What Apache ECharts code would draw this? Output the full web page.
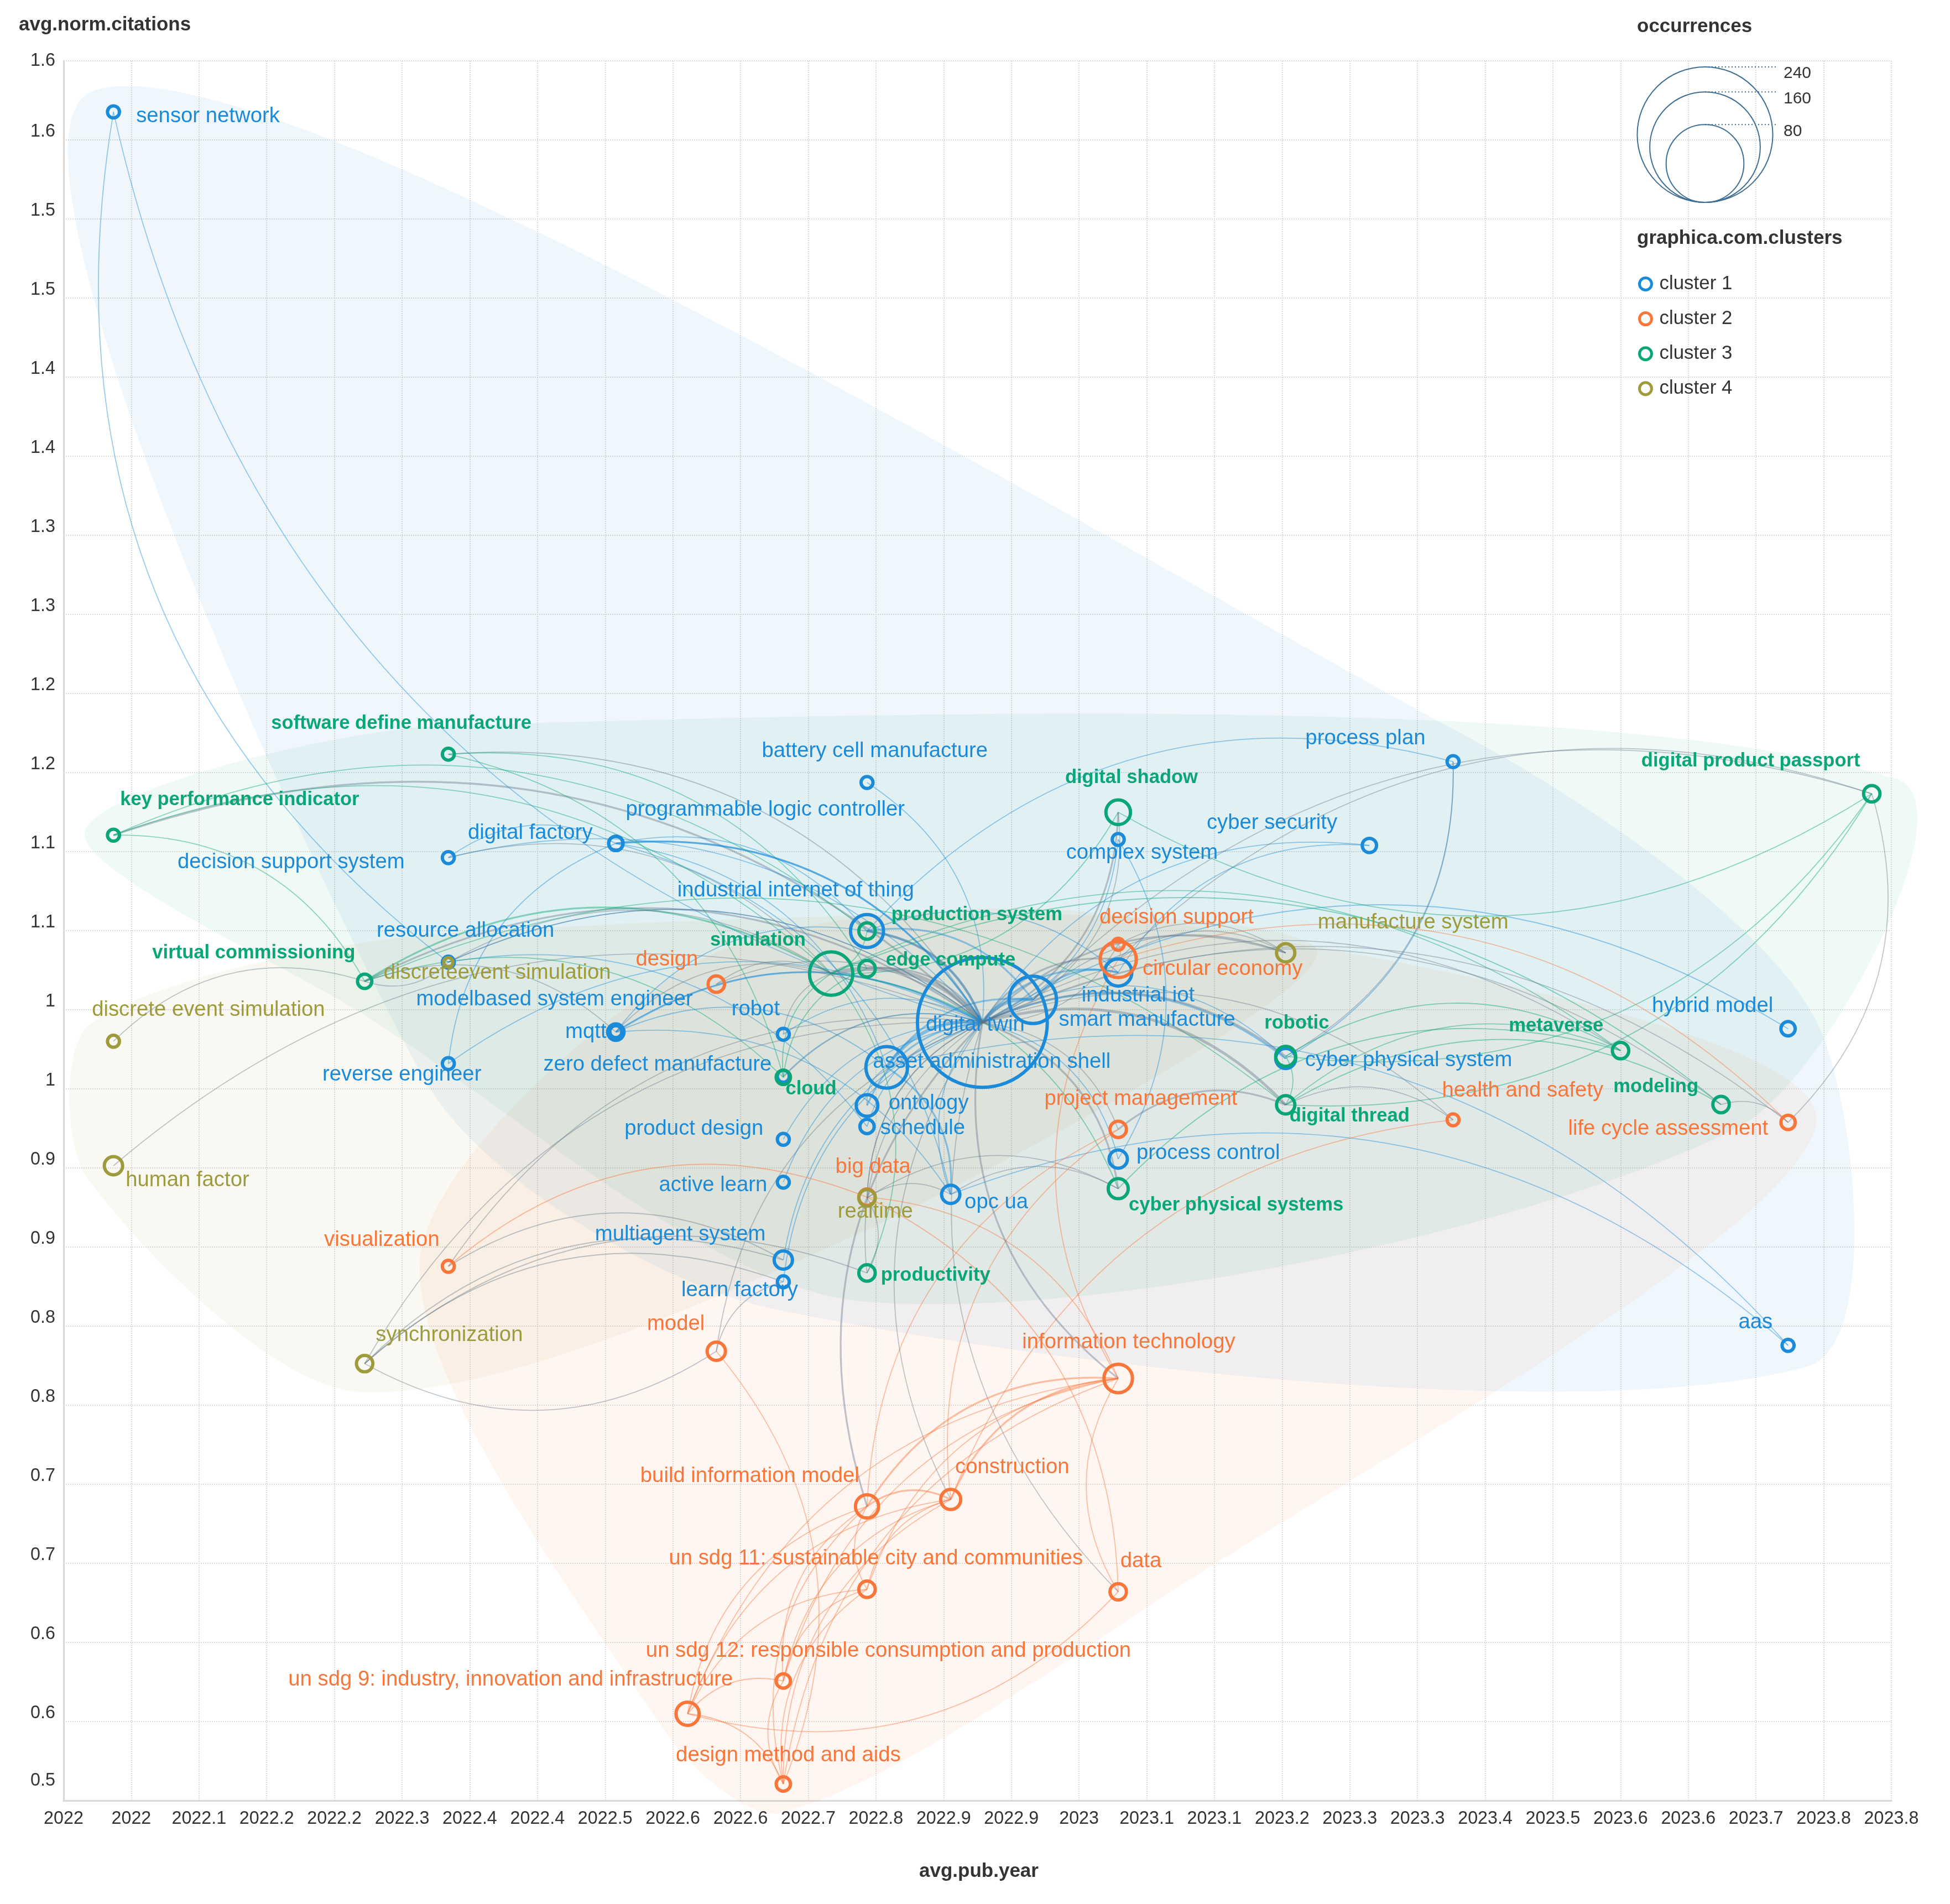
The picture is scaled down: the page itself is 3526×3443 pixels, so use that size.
<!DOCTYPE html>
<html><head><meta charset="utf-8">
<script src="https://cdn.jsdelivr.net/npm/echarts@6/dist/echarts.min.js"></script>
<style>html,body{margin:0;padding:0;background:#fff;}#c{width:3526px;height:3443px;}</style>
</head><body><div id="c"></div>
<script>
// ---------------- DATA ----------------
const SDG9 = 'un sdg 9: industry, innovation and infrastructure';
const SDG11 = 'un sdg 11: sustainable city and communities';
const SDG12 = 'un sdg 12: responsible consumption and production';

const clusterNames = ['cluster 1', 'cluster 2', 'cluster 3', 'cluster 4'];

// cluster 1
const c1Names = ['sensor network','battery cell manufacture','process plan','programmable logic controller','digital factory','decision support system','complex system','cyber security','industrial internet of thing','resource allocation','mqtt','modelbased system engineer','robot','reverse engineer','smart manufacture','digital twin','industrial iot','asset administration shell','ontology','schedule','product design','active learn','opc ua','multiagent system','learn factory','process control','hybrid model','aas','cyber physical system','zero defect manufacture'];
const c1Year = [2022.0,2022.75,2023.3333,2022.5,2022.5,2022.3333,2023.0,2023.25,2022.75,2022.3333,2022.5,2022.5,2022.6667,2022.3333,2022.915,2022.8648,2023.0,2022.7696,2022.75,2022.75,2022.6667,2022.6667,2022.8333,2022.6667,2022.6667,2023.0,2023.6667,2023.6667,2023.1667,2022.6667];
const c1Cit = [1.6077,1.1837,1.1969,1.1452,1.1452,1.1362,1.1477,1.1439,1.0898,1.0701,1.0259,1.0262,1.0245,1.0060,1.0463,1.0320,1.0636,1.0036,0.9795,0.9662,0.9581,0.9310,0.9233,0.8818,0.8680,0.9456,1.0280,0.8278,1.0092,0.9980];
const c1Occ = [3,3,3,4,4,3,3,4,17,3,5,3,3,3,33,228,12,26,8,4,3,3,6,6,3,6,4,3,7,3];

// cluster 2
const c2Names = ['design','decision support','circular economy','project management','health and safety','life cycle assessment','visualization','big data','model','information technology','build information model','construction',SDG11,'data',SDG12,SDG9,'design method and aids'];
const c2Year = [2022.6,2023.0,2023.0,2023.0,2023.3333,2023.6667,2022.3333,2022.75,2022.6,2023.0,2022.75,2022.8333,2022.75,2023.0,2022.6667,2022.5714,2022.6667];
const c2Cit = [1.0562,1.0814,1.0718,0.9644,0.9704,0.9688,0.8778,0.9215,0.8241,0.8069,0.7260,0.7304,0.6736,0.6720,0.6156,0.5949,0.5505];
const c2Occ = [5,3,20,5,3,4,3,5,6,13,9,7,5,5,4,9,4];

// cluster 3
const c3Names = ['software define manufacture','key performance indicator','digital shadow','digital product passport','virtual commissioning','production system','simulation','edge compute','cloud','robotic','metaverse','modeling','digital thread','cyber physical systems','productivity'];
const c3Year = [2022.3333,2022.0,2023.0,2023.75,2022.25,2022.75,2022.7143,2022.75,2022.6667,2023.1667,2023.5,2023.6,2023.1667,2023.0,2022.75];
const c3Cit = [1.2016,1.1504,1.1649,1.1766,1.0580,1.0898,1.0629,1.0660,0.9973,1.0106,1.0142,0.9801,0.9799,0.9269,0.8736];
const c3Occ = [3,3,10,5,4,5,28,5,4,7,5,5,6,7,5];

// cluster 4
const c4Names = ['discrete event simulation','human factor','discreteevent simulation','manufacture system','realtime','synchronization'];
const c4Year = [2022.0,2022.0,2022.3333,2023.1667,2022.75,2022.25];
const c4Cit = [1.0201,0.9414,1.0701,1.0760,0.9211,0.8163];
const c4Occ = [3,6,2,6,5,5];

// co-occurrence links [source, target, weight]
const edges = [
 ['key performance indicator','digital twin',2],['software define manufacture','digital twin',1],['virtual commissioning','digital twin',2],
 ['digital twin','sensor network',1],['resource allocation','sensor network',1],['battery cell manufacture','digital twin',1],
 ['industrial internet of thing','process plan',1],['process plan','cyber physical system',1],['process plan','robotic',1],
 ['digital twin','cyber security',1],['industrial iot','cyber security',1],['complex system','digital twin',1],['complex system','process control',1],
 ['digital shadow','digital twin',2],['digital shadow','simulation',1],['digital shadow','smart manufacture',1],
 ['decision support system','digital factory',1],['digital factory','digital twin',2],['digital factory','industrial internet of thing',1],['reverse engineer','digital factory',1],
 ['programmable logic controller','digital twin',2],['programmable logic controller','asset administration shell',1],['programmable logic controller','opc ua',1],
 ['decision support system','digital twin',1],['decision support system','simulation',1],
 ['industrial internet of thing','digital twin',3],['industrial internet of thing','smart manufacture',2],['industrial internet of thing','industrial iot',1],
 ['resource allocation','digital twin',1],['resource allocation','schedule',1],
 ['mqtt','opc ua',1],['mqtt','digital twin',2],['mqtt','asset administration shell',1],['mqtt','industrial internet of thing',1],
 ['modelbased system engineer','digital twin',1],['modelbased system engineer','simulation',1],['robot','digital twin',1],['robot','simulation',1],
 ['reverse engineer','digital twin',1],['digital twin','smart manufacture',4],['smart manufacture','industrial iot',2],
 ['asset administration shell','smart manufacture',2],['smart manufacture','cyber physical system',1],['smart manufacture','manufacture system',1],
 ['asset administration shell','digital twin',4],['asset administration shell','opc ua',2],['ontology','asset administration shell',1],['ontology','digital twin',2],
 ['schedule','digital twin',1],['product design','digital twin',1],['active learn','digital twin',1],['opc ua','digital twin',1],
 ['multiagent system','digital twin',1],['learn factory','digital twin',1],['digital twin','process control',1],['digital twin','hybrid model',1],
 ['opc ua','aas',1],['asset administration shell','aas',1],['digital twin','cyber physical system',2],['zero defect manufacture','digital twin',1],['digital twin','industrial iot',2],
 ['key performance indicator','simulation',1],['key performance indicator','production system',1],['key performance indicator','virtual commissioning',1],
 ['software define manufacture','edge compute',1],['software define manufacture','cloud',1],
 ['smart manufacture','digital product passport',1],['digital product passport','digital shadow',1],['digital product passport','robotic',1],
 ['digital product passport','digital thread',1],['digital product passport','life cycle assessment',1],
 ['virtual commissioning','simulation',2],['virtual commissioning','cloud',1],['virtual commissioning','mqtt',1],['virtual commissioning','digital thread',1],
 ['discrete event simulation','virtual commissioning',1],['production system','digital twin',2],['production system','simulation',1],
 ['simulation','digital twin',5],['simulation','edge compute',1],['cloud','simulation',1],['simulation','cyber physical systems',1],['simulation','productivity',1],
 ['discreteevent simulation','simulation',1],['design','simulation',1],['edge compute','digital twin',2],['cloud','edge compute',1],['cloud','digital twin',1],
 ['digital twin','robotic',2],['robotic','metaverse',1],['robotic','digital thread',1],['digital twin','metaverse',1],['digital thread','metaverse',1],
 ['cyber physical systems','metaverse',1],['simulation','metaverse',1],['digital thread','modeling',1],['simulation','modeling',1],['digital twin','modeling',1],
 ['modeling','life cycle assessment',1],['digital twin','digital thread',3],['project management','digital thread',2],['digital thread','health and safety',1],
 ['digital twin','cyber physical systems',2],['realtime','cyber physical systems',1],['opc ua','cyber physical systems',1],
 ['productivity','digital twin',1],['realtime','productivity',1],['synchronization','productivity',1],
 ['design','digital twin',1],['decision support','digital twin',1],['decision support','manufacture system',1],['decision support','circular economy',1],
 ['digital twin','circular economy',2],['circular economy','life cycle assessment',1],['circular economy','manufacture system',1],
 ['information technology','circular economy',1],['circular economy','digital product passport',1],
 ['digital twin','project management',1],['build information model','project management',1],['construction','project management',1],
 ['digital twin','health and safety',1],['construction','health and safety',1],['digital twin','life cycle assessment',1],
 ['visualization','multiagent system',1],['visualization','big data',1],['visualization','digital twin',1],
 ['big data','digital twin',1],['big data','information technology',1],['big data','data',1],
 ['model','digital twin',1],['model','synchronization',1],['model','design method and aids',1],['model','learn factory',1],
 ['information technology','digital twin',2],['build information model','information technology',2],['construction','information technology',2],
 [SDG9,'information technology',1],[SDG11,'information technology',1],[SDG12,'information technology',1],['design method and aids','information technology',1],
 ['data','information technology',1],['build information model','construction',2],
 [SDG9,'build information model',1],[SDG11,'build information model',1],[SDG12,'build information model',1],['design method and aids','build information model',1],
 ['build information model','digital twin',2],[SDG9,'construction',1],[SDG11,'construction',1],[SDG12,'construction',1],['design method and aids','construction',1],
 ['construction','digital twin',1],['data','digital twin',1],['data',SDG9,1],[SDG9,SDG11,1],[SDG12,SDG11,1],['design method and aids',SDG11,1],
 [SDG9,SDG12,1],['design method and aids',SDG12,1],[SDG9,'design method and aids',1],
 ['human factor','digital twin',1],['discreteevent simulation','digital twin',1],['discreteevent simulation','virtual commissioning',1],
 ['digital twin','manufacture system',2],['realtime','digital twin',1],['realtime','opc ua',1],
 ['synchronization','digital twin',1],['synchronization','learn factory',1],['synchronization','multiagent system',1]
];

// axis ticks
const xTickLabels = ['2022','2022','2022.1','2022.2','2022.2','2022.3','2022.4','2022.4','2022.5','2022.6','2022.6','2022.7','2022.8','2022.9','2022.9','2023','2023.1','2023.1','2023.2','2023.3','2023.3','2023.4','2023.5','2023.6','2023.6','2023.7','2023.8','2023.8'];
const yTickLabels = ['0.5','0.6','0.6','0.7','0.7','0.8','0.8','0.9','0.9','1','1','1.1','1.1','1.2','1.2','1.3','1.3','1.4','1.4','1.5','1.5','1.6','1.6'];
const legendSizes = [240, 160, 80];

// ---------------- STYLE / LAYOUT ----------------
const X_MIN = 2021.95037, X_STEP = 0.067376, X_MAX = 2023.769522;
const Y_MIN = 0.54, Y_STEP = 0.05, Y_MAX = 1.64;
const COLORS = ['#1b8bd9', '#f9763a', '#0aa678', '#9e9b3c'];
const EDGE_GRAY = '#5f7386';
const BORDER = 6;
const sizeOf = occ => 15.95 * Math.sqrt(occ);

// ---- pick the narrowest installed sans face and size text to the reference widths
const mctx = document.createElement('canvas').getContext('2d');
function mw(font, t) { mctx.font = font; return mctx.measureText(t).width; }
function installed(fam) {
  const t = 'software define manufacture 2022.1';
  return mw("100px '" + fam + "', monospace", t) !== mw('100px monospace', t) &&
         mw("100px '" + fam + "', serif", t) !== mw('100px serif', t);
}
const candidates = [];
if (installed('Liberation Sans Narrow')) candidates.push({family: "'Liberation Sans Narrow'", style: 'normal'});
if (installed('DejaVu Sans Condensed')) candidates.push({family: "'DejaVu Sans Condensed'", style: 'normal'});
if (mw("condensed 100px 'DejaVu Sans'", 'manufacture') < 0.96 * mw("100px 'DejaVu Sans'", 'manufacture')) candidates.push({family: "'DejaVu Sans'", style: 'condensed'});
if (installed('Noto Sans CJK JP')) candidates.push({family: "'Noto Sans CJK JP'", style: 'normal'});
if (installed('Lato')) candidates.push({family: 'Lato', style: 'normal'});
if (installed('Roboto')) candidates.push({family: 'Roboto', style: 'normal'});
candidates.push({family: "'Liberation Sans'", style: 'normal'});
const fstr = (c, wgt, size) => c.style + ' ' + wgt + ' ' + size + 'px ' + c.family;
let F = candidates[0];
candidates.forEach(c => { if (mw(fstr(c, 'normal', 100), 'software define manufacture') < mw(fstr(F, 'normal', 100), 'software define manufacture')) F = c; });
const FONT = F.family + ", sans-serif", FSTYLE = F.style;
const fitSize = (txt, width, wgt, cap) => Math.min(cap, Math.round(10 * width * 100 / mw(fstr(F, wgt, 100), txt)) / 10);
const SZ_LABEL = fitSize('battery cell manufacture', 382 * 1.07, 'normal', 46);
const SZ_LABEL_B = fitSize('software define manufacture', 449 * 1.05, 'bold', 46);
const SZ_TICK = fitSize('2022.1', 95 * 1.04, 'normal', 42);
const SZ_TITLE = fitSize('graphica.com.clusters', 372, 'bold', 46);
const SZ_LEG = fitSize('cluster 1', 127 * 1.04, 'normal', 44);
const SZ_BUB = fitSize('240', 50, 'normal', 40);

// label anchor offsets from node centre [dx, dy, align]
const labelLayout = {
 'sensor network':[44,11,'left'],'battery cell manufacture':[17,-54,'center'],'process plan':[-47,-39,'right'],
 'programmable logic controller':[21,-58,'left'],'digital factory':[-39,-16,'right'],'decision support system':[-76,12,'right'],
 'complex system':[46,27,'center'],'cyber security':[-55,-37,'right'],'industrial internet of thing':[-126,-70,'center'],
 'resource allocation':[34,-53,'center'],'mqtt':[-14,3,'right'],'modelbased system engineer':[-108,-55,'center'],
 'robot':[-47,-42,'center'],'reverse engineer':[-81,23,'center'],'smart manufacture':[50,39,'left'],'digital twin':[-10,8,'center'],
 'industrial iot':[39,45,'center'],'asset administration shell':[-22,-7,'left'],'ontology':[42,-1,'left'],'schedule':[27,6,'left'],
 'product design':[-33,-16,'right'],'active learn':[-26,9,'right'],'opc ua':[28,18,'left'],'multiagent system':[-29,-43,'right'],
 'learn factory':[-76,19,'center'],'process control':[36,-8,'left'],'hybrid model':[-24,-38,'right'],'aas':[-25,-38,'right'],
 'cyber physical system':[38,6,'left'],'zero defect manufacture':[-18,-18,'right'],
 'software define manufacture':[-82,-52,'center'],'key performance indicator':[15,-61,'left'],'digital shadow':[27,-59,'center'],
 'digital product passport':[-18,-56,'right'],'virtual commissioning':[-14,-48,'right'],'production system':[47,-26,'left'],
 'simulation':[-43,-57,'right'],'edge compute':[37,-12,'left'],'cloud':[7,24,'left'],'robotic':[23,-57,'center'],
 'metaverse':[-28,-41,'right'],'modeling':[-38,-29,'right'],'digital thread':[10,24,'left'],'cyber physical systems':[22,33,'left'],
 'productivity':[28,8,'left'],
 'design':[-30,-41,'right'],'decision support':[-31,-45,'left'],'circular economy':[47,20,'left'],'project management':[44,-52,'center'],
 'health and safety':[-17,-50,'left'],'life cycle assessment':[-33,15,'right'],'visualization':[-13,-44,'right'],'big data':[14,-51,'center'],
 'model':[-18,-46,'right'],'information technology':[22,-62,'center'],'build information model':[-11,-52,'right'],'construction':[11,-55,'left'],
 [SDG11]:[19,-52,'center'],'data':[44,-52,'center'],[SDG12]:[193,-51,'center'],[SDG9]:[85,-59,'right'],'design method and aids':[12,-49,'center'],
 'discrete event simulation':[-36,-53,'left'],'human factor':[25,29,'left'],'discreteevent simulation':[-114,23,'left'],
 'manufacture system':[61,-52,'left'],'realtime':[18,28,'center'],'synchronization':[23,-48,'left']
};

const clusters = [
 {names:c1Names, years:c1Year, cits:c1Cit, occ:c1Occ},
 {names:c2Names, years:c2Year, cits:c2Cit, occ:c2Occ},
 {names:c3Names, years:c3Year, cits:c3Cit, occ:c3Occ},
 {names:c4Names, years:c4Year, cits:c4Cit, occ:c4Occ}
];

function rgba(hex, a) {
  const n = parseInt(hex.slice(1), 16);
  return 'rgba(' + (n >> 16 & 255) + ',' + (n >> 8 & 255) + ',' + (n & 255) + ',' + a + ')';
}

const nodeIndex = {};
clusters.forEach((c, ci) => c.names.forEach((n, i) => { nodeIndex[n] = {ci: ci, x: c.years[i], y: c.cits[i]}; }));

const edgeData = edges.filter(e => nodeIndex[e[0]] && nodeIndex[e[1]]).map(e => {
  const a = nodeIndex[e[0]], b = nodeIndex[e[1]];
  const same = a.ci === b.ci;
  return {coords: [[a.x, a.y], [b.x, b.y]],
    lineStyle: {color: same ? COLORS[a.ci] : EDGE_GRAY, width: 1.8 + (e[2] - 1) * 1.5, opacity: same ? 0.45 : 0.4, curveness: 0.3}};
});

function convexHull(points) {
  const pts = points.slice().sort((a, b) => a[0] - b[0] || a[1] - b[1]);
  const cross = (o, a, b) => (a[0] - o[0]) * (b[1] - o[1]) - (a[1] - o[1]) * (b[0] - o[0]);
  const lower = [], upper = [];
  for (const p of pts) { while (lower.length >= 2 && cross(lower[lower.length - 2], lower[lower.length - 1], p) <= 0) lower.pop(); lower.push(p); }
  for (let i = pts.length - 1; i >= 0; i--) { const p = pts[i]; while (upper.length >= 2 && cross(upper[upper.length - 2], upper[upper.length - 1], p) <= 0) upper.pop(); upper.push(p); }
  upper.pop(); lower.pop();
  return lower.concat(upper);
}

const HULL_PAD = 52;
const hullSeries = {
  type: 'custom', coordinateSystem: 'cartesian2d', z: 1, silent: true, clip: false,
  data: clusters.map((c, ci) => ({value: [c.years[0], c.cits[0], ci]})),
  encode: {x: 0, y: 1},
  renderItem: function (params, api) {
    const ci = params.dataIndex;
    const c = clusters[ci];
    const pts = c.years.map((y, i) => api.coord([y, c.cits[i]]));
    const hull = convexHull(pts);
    const n = hull.length, out = [];
    for (let i = 0; i < n; i++) {
      const p = hull[i], a = hull[(i - 1 + n) % n], b = hull[(i + 1) % n];
      let ux = p[0] - a[0], uy = p[1] - a[1], l = Math.hypot(ux, uy) || 1; ux /= l; uy /= l;
      let vx = b[0] - p[0], vy = b[1] - p[1]; l = Math.hypot(vx, vy) || 1; vx /= l; vy /= l;
      let dx = ux - vx, dy = uy - vy; l = Math.hypot(dx, dy) || 1;
      out.push([p[0] + dx / l * HULL_PAD, p[1] + dy / l * HULL_PAD]);
    }
    return {type: 'polygon', shape: {points: out, smooth: 0.28}, style: {fill: rgba(COLORS[ci], 0.065)}};
  }
};

const edgeSeries = {
  type: 'lines', coordinateSystem: 'cartesian2d', z: 2, silent: true, polyline: false,
  lineStyle: {curveness: 0.3}, data: edgeData
};

const nodeSeries = clusters.map((c, ci) => ({
  type: 'scatter', name: clusterNames[ci], z: 3, silent: true, symbol: 'circle',
  itemStyle: {color: 'rgba(255,255,255,0)', borderColor: COLORS[ci], borderWidth: BORDER, opacity: 1},
  data: c.names.map((n, i) => {
    const s = sizeOf(c.occ[i]) - BORDER;
    const L = labelLayout[n] || [s / 2 + 10, 0, 'left'];
    return {name: n, value: [c.years[i], c.cits[i]], symbolSize: s,
      label: {show: true, formatter: n, position: [s / 2 + L[0], s / 2 + L[1]], align: L[2], verticalAlign: 'middle',
        color: COLORS[ci], fontFamily: FONT, fontStyle: FSTYLE, fontSize: ci === 2 ? SZ_LABEL_B : SZ_LABEL, fontWeight: ci === 2 ? 'bold' : 'normal'}};
  })
}));

const txt = (x, y, text, size, weight, align) => ({type: 'text', x: x, y: y, z: 10,
  style: {text: text, fontFamily: FONT, fontStyle: FSTYLE, fontSize: size, fontWeight: weight, fill: '#333', align: align, verticalAlign: 'middle'}});
const graphics = [
  txt(34, 45, 'avg.norm.citations', SZ_TITLE, 'bold', 'left'),
  txt(1770, 3384, 'avg.pub.year', SZ_TITLE, 'bold', 'center'),
  txt(2960, 48, 'occurrences', SZ_TITLE, 'bold', 'left'),
  txt(2960, 431, 'graphica.com.clusters', SZ_TITLE, 'bold', 'left')
];
const BUB_CX = 3083, BUB_BOTTOM = 367;
legendSizes.forEach(v => {
  const D = sizeOf(v);
  const top = BUB_BOTTOM - D + 1;
  graphics.push({type: 'circle', shape: {cx: BUB_CX, cy: BUB_BOTTOM - D / 2, r: (D - 2) / 2}, style: {fill: 'none', stroke: '#3e6e93', lineWidth: 2}, z: 10});
  graphics.push({type: 'line', shape: {x1: BUB_CX, y1: top, x2: 3213, y2: top}, style: {stroke: '#3e6e93', lineWidth: 2, lineDash: [2, 4]}, z: 10});
  graphics.push(txt(3225, top + 12, String(v), SZ_BUB, 'normal', 'left'));
});

const tickFont = {fontFamily: FONT, fontStyle: FSTYLE, fontSize: SZ_TICK, color: '#333'};
const chart = echarts.init(document.getElementById('c'), null, {renderer: 'canvas'});
chart.setOption({
  backgroundColor: '#ffffff',
  animation: false,
  grid: {left: 115, right: 106, top: 110, bottom: 187},
  xAxis: {
    type: 'value', min: X_MIN, max: X_MAX, interval: X_STEP,
    axisLine: {show: true, lineStyle: {color: '#d8d8d8', width: 3}},
    axisTick: {show: false},
    axisLabel: Object.assign({show: true, showMinLabel: true, showMaxLabel: true, margin: 17,
      formatter: v => { const k = Math.round((v - X_MIN) / X_STEP); return xTickLabels[k] || ''; }}, tickFont),
    splitLine: {show: true, lineStyle: {color: '#dcdcdc', width: 2, type: 'dotted'}}
  },
  yAxis: {
    type: 'value', min: Y_MIN, max: Y_MAX, interval: Y_STEP,
    axisLine: {show: true, lineStyle: {color: '#d8d8d8', width: 3}},
    axisTick: {show: false},
    axisLabel: Object.assign({show: true, showMinLabel: true, showMaxLabel: true, margin: 15,
      verticalAlign: 'middle', padding: [0, 0, 30, 0],
      rich: {t: Object.assign({padding: [30, 0, 0, 0]}, tickFont), b: Object.assign({padding: [0, 0, 42, 0]}, tickFont)},
      formatter: v => {
        const k = Math.round((v - Y_MIN) / Y_STEP);
        const s = yTickLabels[k] || '';
        if (k === yTickLabels.length - 1) return '{t|' + s + '}';
        if (k === 0) return '{b|' + s + '}';
        return s;
      }}, tickFont),
    splitLine: {show: true, lineStyle: {color: '#dcdcdc', width: 2, type: 'dotted'}}
  },
  legend: {
    orient: 'vertical', left: 2957, top: 491, itemWidth: 40, itemHeight: 22, itemGap: 63 - SZ_LEG,
    selectedMode: false,
    textStyle: {fontFamily: FONT, fontStyle: FSTYLE, fontSize: SZ_LEG, color: '#333', lineHeight: SZ_LEG},
    data: clusterNames.map((n, ci) => ({name: n, icon: 'circle', itemStyle: {color: 'rgba(255,255,255,0)', borderColor: COLORS[ci], borderWidth: 5}}))
  },
  graphic: graphics,
  series: [hullSeries, edgeSeries].concat(nodeSeries)
});
</script></body></html>
